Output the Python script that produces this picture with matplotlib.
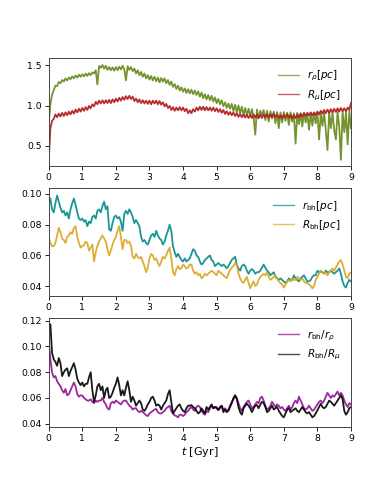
import numpy as np
import matplotlib
matplotlib.use("Agg")
import matplotlib.pyplot as plt

# time grid (Gyr), 0.05 Gyr sampling
t = np.round(np.arange(181) * 0.05, 2)

r_rho = [
    0.76, 1.02, 1.13, 1.19, 1.245, 1.24, 1.29, 1.275, 1.315, 1.295,
    1.335, 1.31, 1.345, 1.325, 1.36, 1.335, 1.37, 1.345, 1.38, 1.355,
    1.385, 1.36, 1.395, 1.365, 1.40, 1.375, 1.41, 1.395, 1.435, 1.26,
    1.49, 1.465, 1.50, 1.455, 1.49, 1.44, 1.475, 1.435, 1.47, 1.43,
    1.475, 1.435, 1.48, 1.445, 1.49, 1.45, 1.31, 1.485, 1.44, 1.475,
    1.425, 1.455, 1.395, 1.435, 1.375, 1.415, 1.355, 1.395, 1.335, 1.375,
    1.32, 1.365, 1.31, 1.355, 1.30, 1.345, 1.285, 1.34, 1.295, 1.335,
    1.275, 1.315, 1.255, 1.295, 1.23, 1.265, 1.205, 1.245, 1.185, 1.225,
    1.17, 1.21, 1.155, 1.20, 1.15, 1.195, 1.14, 1.185, 1.13, 1.175,
    1.11, 1.16, 1.09, 1.14, 1.075, 1.13, 1.065, 1.12, 1.05, 1.10,
    1.03, 1.08, 1.015, 1.065, 0.99, 1.04, 0.97, 1.025, 0.96, 1.02,
    0.93, 1.01, 0.915, 1.00, 0.905, 0.985, 0.885, 0.97, 0.875, 0.96,
    0.87, 0.955, 0.86, 0.64, 0.95, 0.84, 0.935, 0.88, 0.945, 0.82,
    0.935, 0.80, 0.93, 0.84, 0.925, 0.78, 0.92, 0.72, 0.915, 0.79,
    0.92, 0.81, 0.91, 0.76, 0.915, 0.80, 0.905, 0.53, 0.91, 0.77,
    0.905, 0.74, 0.91, 0.79, 0.90, 0.70, 0.91, 0.75, 0.905, 0.78,
    0.91, 0.58, 0.905, 0.75, 0.915, 0.69, 0.45, 0.92, 0.72, 0.91,
    0.70, 0.58, 0.92, 0.74, 0.33, 0.925, 0.67, 0.92, 0.52, 0.93,
    0.72]

R_mu = [
    0.30, 0.72, 0.81, 0.835, 0.89, 0.855, 0.90, 0.865, 0.91, 0.87,
    0.915, 0.88, 0.925, 0.89, 0.935, 0.90, 0.95, 0.915, 0.96, 0.925,
    0.97, 0.935, 0.98, 0.945, 0.995, 0.965, 1.015, 0.99, 1.045, 1.015,
    1.06, 1.025, 1.065, 1.025, 1.065, 1.03, 1.07, 1.03, 1.075, 1.04,
    1.085, 1.05, 1.095, 1.06, 1.105, 1.07, 1.115, 1.08, 1.12, 1.08,
    1.11, 1.055, 1.085, 1.04, 1.075, 1.03, 1.065, 1.025, 1.06, 1.02,
    1.06, 1.015, 1.06, 1.025, 1.06, 1.015, 1.055, 1.01, 1.04, 0.99,
    1.02, 0.97, 0.995, 0.945, 0.98, 0.935, 0.975, 0.94, 0.98, 0.94,
    0.975, 0.93, 0.96, 0.905, 0.94, 0.905, 0.955, 0.925, 0.975, 0.94,
    0.985, 0.945, 0.985, 0.94, 0.98, 0.94, 0.975, 0.935, 0.975, 0.93,
    0.965, 0.92, 0.955, 0.91, 0.945, 0.895, 0.93, 0.885, 0.92, 0.88,
    0.915, 0.87, 0.905, 0.86, 0.895, 0.855, 0.89, 0.85, 0.885, 0.845,
    0.885, 0.845, 0.89, 0.85, 0.89, 0.845, 0.885, 0.845, 0.89, 0.855,
    0.895, 0.85, 0.89, 0.855, 0.90, 0.855, 0.89, 0.845, 0.88, 0.84,
    0.885, 0.85, 0.895, 0.85, 0.885, 0.84, 0.88, 0.845, 0.89, 0.855,
    0.90, 0.86, 0.905, 0.87, 0.91, 0.875, 0.915, 0.875, 0.915, 0.88,
    0.925, 0.89, 0.935, 0.90, 0.945, 0.905, 0.95, 0.91, 0.955, 0.915,
    0.96, 0.92, 0.965, 0.925, 0.97, 0.93, 0.965, 0.93, 0.975, 0.945,
    1.03]

r_bh = [
    0.096, 0.097, 0.090, 0.088, 0.094, 0.099, 0.095, 0.091, 0.088, 0.089,
    0.086, 0.088, 0.084, 0.090, 0.094, 0.097, 0.093, 0.088, 0.084, 0.083,
    0.084, 0.082, 0.083, 0.079, 0.082, 0.081, 0.085, 0.086, 0.084, 0.089,
    0.090, 0.088, 0.092, 0.095, 0.090, 0.092, 0.077, 0.076, 0.081, 0.085,
    0.086, 0.084, 0.085, 0.082, 0.076, 0.087, 0.089, 0.087, 0.090, 0.088,
    0.085, 0.081, 0.083, 0.081, 0.079, 0.072, 0.069, 0.070, 0.068, 0.067,
    0.070, 0.073, 0.074, 0.072, 0.076, 0.073, 0.071, 0.070, 0.067, 0.069,
    0.073, 0.076, 0.080, 0.076, 0.066, 0.062, 0.059, 0.061, 0.059, 0.057,
    0.056, 0.058, 0.056, 0.057, 0.058, 0.061, 0.064, 0.063, 0.060, 0.059,
    0.056, 0.054, 0.055, 0.057, 0.058, 0.059, 0.060, 0.057, 0.056, 0.053,
    0.054, 0.055, 0.054, 0.053, 0.054, 0.053, 0.0515, 0.053, 0.055, 0.057,
    0.058, 0.059, 0.054, 0.0515, 0.050, 0.053, 0.054, 0.053, 0.050, 0.048,
    0.050, 0.051, 0.050, 0.048, 0.049, 0.049, 0.050, 0.052, 0.054, 0.052,
    0.050, 0.049, 0.047, 0.048, 0.049, 0.046, 0.045, 0.044, 0.045, 0.044,
    0.043, 0.042, 0.043, 0.045, 0.044, 0.044, 0.047, 0.045, 0.044, 0.043,
    0.045, 0.046, 0.047, 0.045, 0.043, 0.043, 0.044, 0.046, 0.047, 0.047,
    0.050, 0.049, 0.0495, 0.049, 0.048, 0.050, 0.049, 0.049, 0.050, 0.049,
    0.048, 0.049, 0.050, 0.0515, 0.048, 0.043, 0.040, 0.039, 0.042, 0.044,
    0.043]

R_bh = [
    0.072, 0.068, 0.066, 0.066, 0.068, 0.073, 0.078, 0.075, 0.071, 0.070,
    0.068, 0.072, 0.073, 0.075, 0.074, 0.078, 0.079, 0.072, 0.068, 0.065,
    0.066, 0.0665, 0.069, 0.068, 0.063, 0.065, 0.067, 0.056, 0.062, 0.066,
    0.069, 0.071, 0.073, 0.071, 0.069, 0.064, 0.060, 0.063, 0.067, 0.070,
    0.072, 0.076, 0.079, 0.072, 0.064, 0.070, 0.070, 0.068, 0.069, 0.066,
    0.059, 0.058, 0.061, 0.059, 0.058, 0.059, 0.056, 0.053, 0.049, 0.052,
    0.058, 0.061, 0.060, 0.057, 0.058, 0.055, 0.053, 0.056, 0.059, 0.058,
    0.060, 0.063, 0.065, 0.058, 0.049, 0.047, 0.051, 0.053, 0.051, 0.0515,
    0.054, 0.053, 0.0515, 0.052, 0.054, 0.054, 0.050, 0.048, 0.049, 0.047,
    0.048, 0.045, 0.046, 0.048, 0.047, 0.048, 0.049, 0.050, 0.049, 0.048,
    0.047, 0.050, 0.049, 0.048, 0.047, 0.046, 0.045, 0.048, 0.0505, 0.052,
    0.053, 0.055, 0.054, 0.048, 0.045, 0.043, 0.042, 0.044, 0.046, 0.042,
    0.0385, 0.041, 0.043, 0.040, 0.041, 0.044, 0.046, 0.047, 0.048, 0.047,
    0.049, 0.046, 0.044, 0.045, 0.046, 0.047, 0.045, 0.043, 0.042, 0.041,
    0.039, 0.041, 0.043, 0.044, 0.043, 0.045, 0.044, 0.044, 0.046, 0.045,
    0.044, 0.045, 0.043, 0.042, 0.042, 0.041, 0.040, 0.0385, 0.040, 0.044,
    0.046, 0.048, 0.050, 0.049, 0.048, 0.049, 0.047, 0.049, 0.050, 0.0515,
    0.050, 0.052, 0.054, 0.056, 0.057, 0.054, 0.050, 0.046, 0.045, 0.048,
    0.049]

ratio_r = [
    0.105, 0.090, 0.080, 0.076, 0.077, 0.073, 0.071, 0.069, 0.066, 0.064,
    0.067, 0.062, 0.063, 0.066, 0.069, 0.072, 0.069, 0.063, 0.061, 0.062,
    0.062, 0.060, 0.059, 0.058, 0.058, 0.059, 0.057, 0.056, 0.058, 0.057,
    0.058, 0.058, 0.060, 0.057, 0.055, 0.052, 0.051, 0.056, 0.057, 0.056,
    0.058, 0.057, 0.056, 0.055, 0.057, 0.058, 0.058, 0.056, 0.054, 0.053,
    0.051, 0.052, 0.052, 0.050, 0.049, 0.050, 0.049, 0.048, 0.0465, 0.046,
    0.048, 0.049, 0.050, 0.051, 0.0515, 0.049, 0.048, 0.048, 0.049, 0.050,
    0.052, 0.053, 0.054, 0.050, 0.048, 0.0465, 0.046, 0.045, 0.047, 0.047,
    0.046, 0.047, 0.049, 0.050, 0.052, 0.053, 0.051, 0.050, 0.053, 0.054,
    0.053, 0.050, 0.048, 0.047, 0.050, 0.049, 0.052, 0.054, 0.052, 0.053,
    0.053, 0.051, 0.052, 0.054, 0.051, 0.052, 0.050, 0.051, 0.054, 0.057,
    0.059, 0.062, 0.060, 0.056, 0.052, 0.050, 0.053, 0.055, 0.057, 0.058,
    0.055, 0.052, 0.053, 0.055, 0.057, 0.056, 0.060, 0.061, 0.058, 0.054,
    0.051, 0.052, 0.054, 0.057, 0.055, 0.053, 0.055, 0.054, 0.052, 0.053,
    0.051, 0.050, 0.052, 0.054, 0.051, 0.053, 0.056, 0.058, 0.056, 0.061,
    0.058, 0.055, 0.052, 0.051, 0.052, 0.054, 0.052, 0.050, 0.051, 0.053,
    0.055, 0.057, 0.058, 0.056, 0.058, 0.061, 0.064, 0.062, 0.060, 0.062,
    0.061, 0.063, 0.065, 0.062, 0.064, 0.062, 0.058, 0.055, 0.053, 0.056,
    0.055]

ratio_R = [
    0.118, 0.117, 0.095, 0.090, 0.088, 0.085, 0.091, 0.087, 0.077, 0.080,
    0.082, 0.083, 0.077, 0.081, 0.084, 0.087, 0.082, 0.075, 0.072, 0.070,
    0.072, 0.069, 0.071, 0.071, 0.076, 0.080, 0.066, 0.057, 0.062, 0.069,
    0.071, 0.066, 0.069, 0.060, 0.066, 0.068, 0.060, 0.061, 0.064, 0.068,
    0.071, 0.076, 0.070, 0.062, 0.066, 0.062, 0.068, 0.073, 0.066, 0.057,
    0.061, 0.058, 0.054, 0.056, 0.058, 0.056, 0.051, 0.050, 0.052, 0.055,
    0.057, 0.060, 0.061, 0.058, 0.054, 0.055, 0.054, 0.051, 0.054, 0.056,
    0.058, 0.063, 0.066, 0.057, 0.048, 0.050, 0.052, 0.054, 0.055, 0.052,
    0.050, 0.049, 0.052, 0.054, 0.054, 0.0545, 0.053, 0.052, 0.050, 0.048,
    0.049, 0.052, 0.050, 0.048, 0.053, 0.051, 0.053, 0.055, 0.052, 0.053,
    0.052, 0.0505, 0.053, 0.054, 0.049, 0.051, 0.049, 0.050, 0.053, 0.056,
    0.060, 0.062, 0.059, 0.053, 0.049, 0.047, 0.052, 0.054, 0.0555, 0.054,
    0.052, 0.049, 0.052, 0.054, 0.0545, 0.052, 0.055, 0.057, 0.056, 0.053,
    0.049, 0.050, 0.052, 0.054, 0.051, 0.052, 0.053, 0.050, 0.048, 0.046,
    0.045, 0.048, 0.051, 0.052, 0.049, 0.050, 0.051, 0.052, 0.050, 0.049,
    0.051, 0.053, 0.051, 0.049, 0.048, 0.049, 0.047, 0.045, 0.046, 0.048,
    0.0505, 0.053, 0.0555, 0.053, 0.052, 0.053, 0.0555, 0.058, 0.057, 0.0555,
    0.054, 0.056, 0.058, 0.060, 0.062, 0.059, 0.050, 0.047, 0.049, 0.052,
    0.053]

labels1 = [r'$r_\rho[pc]$', r'$R_\mu[pc]$']
labels2 = [r'$r_{\rm bh}[pc]$', r'$R_{\rm bh}[pc]$']
labels3 = [r'$r_{\rm bh}/r_\rho$', r'$R_{\rm bh}/R_\mu$']
xticks = list(range(10))

fig = plt.figure(figsize=(3.9, 4.88), dpi=100)
W, H = 390.0, 488.0
boxes = [(48.7, 58.3, 351, 166), (48.7, 188.3, 351, 296), (48.7, 318, 351, 426.7)]
axes = []
for (x0, y0, x1, y1) in boxes:
    ax = fig.add_axes([x0 / W, 1 - y1 / H, (x1 - x0) / W, (y1 - y0) / H])
    axes.append(ax)

ax1, ax2, ax3 = axes
ax1.plot(t, r_rho, color='#6B8E23', lw=1.3, alpha=0.95, label=labels1[0])
ax1.plot(t, R_mu, color='#B22222', lw=1.3, alpha=0.95, label=labels1[1])
ax1.set_ylim(0.253, 1.583)
ax1.set_yticks([0.5, 1.0, 1.5])

ax2.plot(t, r_bh, color='#008B8B', lw=1.3, alpha=0.9, label=labels2[0])
ax2.plot(t, R_bh, color='#DAA520', lw=1.3, alpha=0.9, label=labels2[1])
ax2.set_ylim(0.0335, 0.1037)
ax2.set_yticks([0.04, 0.06, 0.08, 0.10])

ax3.plot(t, ratio_r, color='#8B008B', lw=1.3, alpha=0.85, label=labels3[0])
ax3.plot(t, ratio_R, color='black', lw=1.3, alpha=0.9, label=labels3[1])
ax3.set_ylim(0.0377, 0.1221)
ax3.set_yticks([0.04, 0.06, 0.08, 0.10, 0.12])
ax3.set_xlabel(r'$t$ [Gyr]', fontsize=8, labelpad=2)

for ax in axes:
    ax.set_xlim(0, 9)
    ax.set_xticks(xticks)
    ax.tick_params(labelsize=6.7, length=3, width=0.6, pad=2)
    for s in ax.spines.values():
        s.set_linewidth(0.7)
        s.set_color('#444444')
    leg = ax.legend(loc='upper right', frameon=False, fontsize=7.5,
                    handlelength=2.0, borderaxespad=0.6)
    for h in leg.get_lines():
        h.set_linewidth(1.0)
        h.set_alpha(0.7)

fig.savefig('out.png', dpi=100)
